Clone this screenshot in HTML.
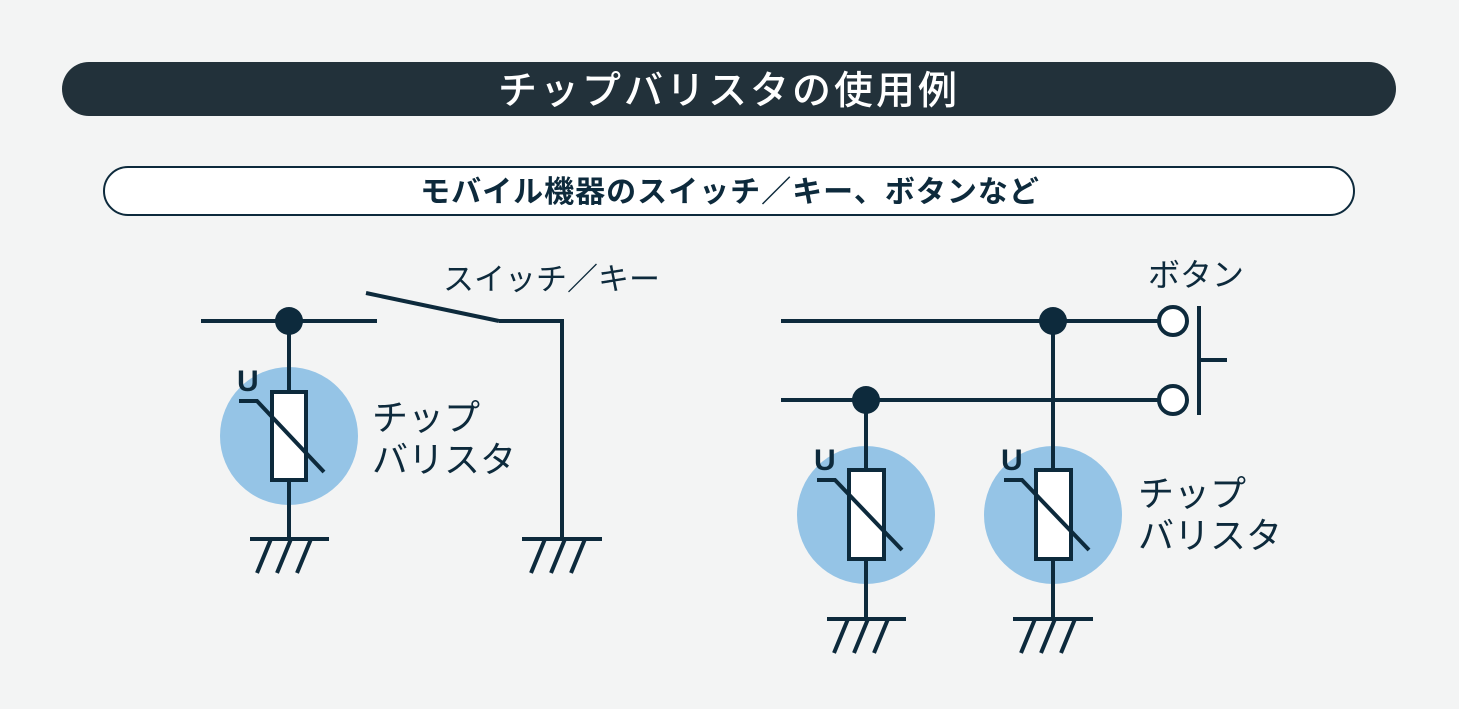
<!DOCTYPE html>
<html><head><meta charset="utf-8"><style>
html,body{margin:0;padding:0;background:#f3f4f4;}
svg{display:block}
text{font-family:"Liberation Sans","Noto Sans CJK JP",sans-serif;}
</style></head><body>
<svg width="1459" height="709" viewBox="0 0 1459 709" xmlns="http://www.w3.org/2000/svg">
<rect width="1459" height="709" fill="#f3f4f4"/>
<rect x="62" y="62" width="1334" height="54" rx="27" fill="#22313a"/>
<text x="729" y="104" text-anchor="middle" font-size="39" font-weight="500" fill="#fff" letter-spacing="3">チップバリスタの使用例</text>
<rect x="104" y="167" width="1250" height="48" rx="24" fill="#fff" stroke="#0d2a3c" stroke-width="2"/>
<text x="730" y="202" text-anchor="middle" font-size="30" font-weight="bold" fill="#0d2a3c" letter-spacing="1">モバイル機器のスイッチ／キー、ボタンなど</text>

<g stroke="#0d2a3c" stroke-width="4" fill="none">
<line x1="201" y1="321" x2="377" y2="321"/>
<circle cx="289" cy="436" r="69" fill="#95c4e6" stroke="none"/>
<line x1="289" y1="321" x2="289" y2="539"/>
<rect x="272" y="392" width="34" height="88" fill="#fff"/>
<polyline points="239,401 257,401 324,472"/>
<line x1="250" y1="539" x2="329" y2="539"/>
<line x1="271" y1="539" x2="257" y2="573"/><line x1="291" y1="539" x2="277" y2="573"/><line x1="311" y1="539" x2="297" y2="573"/>
<line x1="366" y1="293" x2="499" y2="321"/>
<polyline points="499,321 562,321 562,539"/>
<line x1="522" y1="539" x2="602" y2="539"/>
<line x1="545" y1="539" x2="531" y2="573"/><line x1="565" y1="539" x2="551" y2="573"/><line x1="585" y1="539" x2="571" y2="573"/>

<line x1="781" y1="321" x2="1161" y2="321"/>
<line x1="781" y1="400" x2="1161" y2="400"/>
<circle cx="866" cy="515" r="69" fill="#95c4e6" stroke="none"/>
<circle cx="1053" cy="515" r="69" fill="#95c4e6" stroke="none"/>
<line x1="866" y1="400" x2="866" y2="619"/>
<line x1="1053" y1="321" x2="1053" y2="619"/>
<rect x="849" y="470" width="35" height="89" fill="#fff"/>
<rect x="1036" y="470" width="35" height="89" fill="#fff"/>
<polyline points="817,480 835,480 902,550"/>
<polyline points="1004,480 1022,480 1089,550"/>
<line x1="827" y1="619" x2="906" y2="619"/>
<line x1="848" y1="619" x2="834" y2="653"/><line x1="868" y1="619" x2="854" y2="653"/><line x1="888" y1="619" x2="874" y2="653"/>
<line x1="1013" y1="619" x2="1093" y2="619"/>
<line x1="1035" y1="619" x2="1021" y2="653"/><line x1="1055" y1="619" x2="1041" y2="653"/><line x1="1075" y1="619" x2="1061" y2="653"/>
<circle cx="1173" cy="321" r="14" fill="#fff"/>
<circle cx="1173" cy="400" r="14" fill="#fff"/>
<line x1="1199" y1="306" x2="1199" y2="415"/>
<line x1="1199" y1="360" x2="1227" y2="360"/>
</g>
<g fill="#0d2a3c">
<circle cx="289" cy="321" r="14"/>
<circle cx="1053" cy="321" r="14"/>
<circle cx="866" cy="400" r="14"/>
</g>
<g fill="#0d2a3c">
<text x="237" y="391" font-size="30" font-weight="bold">U</text>
<text x="814" y="470" font-size="30" font-weight="bold">U</text>
<text x="1001" y="470" font-size="30" font-weight="bold">U</text>
<text x="443" y="290" font-size="31">スイッチ／キー</text>
<text x="372" y="430" font-size="36">チップ</text>
<text x="372" y="472" font-size="36">バリスタ</text>
<text x="1138" y="506" font-size="36">チップ</text>
<text x="1138" y="548" font-size="36">バリスタ</text>
<text x="1148" y="286" font-size="32">ボタン</text>
</g>
</svg>
</body></html>
